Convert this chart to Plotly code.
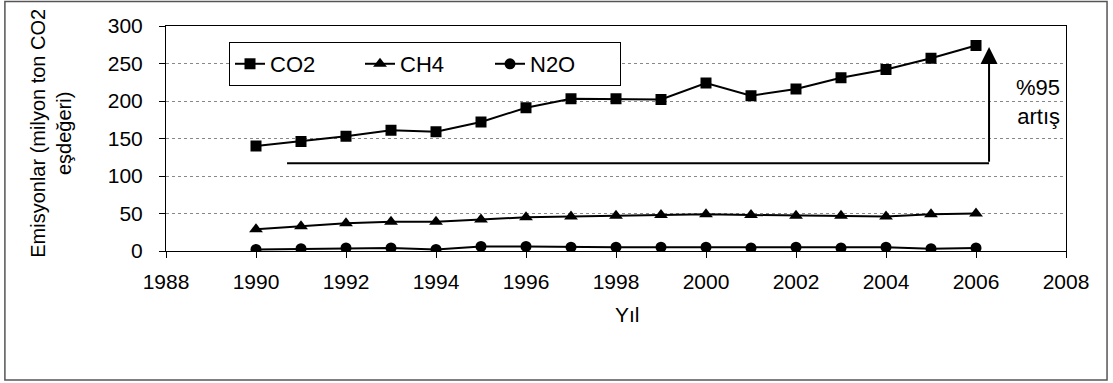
import plotly.graph_objects as go

years = list(range(1990, 2007))
co2 = [140, 146, 153, 161, 159, 172, 191, 203, 203, 202, 224, 207, 216, 231, 242, 257, 274]
ch4 = [29, 33, 37, 39, 39, 42, 45, 46, 47, 48, 49, 48, 47, 47, 46, 49, 50]
n2o = [2, 3, 4, 4, 2, 6, 6, 5, 5, 5, 5, 4, 5, 4, 5, 3, 4]
x_ticks = list(range(1988, 2010, 2))
y_ticks = list(range(0, 301, 50))

# arrow annotation ("%95 artış")
arrow_x0, arrow_x1 = 1990.69, 2006.29
arrow_ybase, arrow_ytop = 117, 272
note_x, note_y = 2007.9, 199

FONT = "Arial"

fig = go.Figure()
fig.add_trace(go.Scatter(x=years, y=co2, name="CO2", mode="lines+markers",
                         line=dict(color="black", width=2),
                         marker=dict(symbol="square", size=11, color="black")))
fig.add_trace(go.Scatter(x=years, y=ch4, name="CH4", mode="lines+markers",
                         line=dict(color="black", width=2),
                         marker=dict(symbol="triangle-up", size=12, color="black")))
fig.add_trace(go.Scatter(x=years, y=n2o, name="N2O", mode="lines+markers",
                         line=dict(color="black", width=2),
                         marker=dict(symbol="circle", size=11, color="black")))

fig.add_shape(type="line", xref="x", yref="y", x0=arrow_x0, x1=arrow_x1,
              y0=arrow_ybase, y1=arrow_ybase, line=dict(color="black", width=2))
fig.add_annotation(x=arrow_x1, y=arrow_ytop, ax=arrow_x1, ay=arrow_ybase,
                   xref="x", yref="y", axref="x", ayref="y", text="",
                   showarrow=True, arrowhead=2, arrowsize=1.7, arrowwidth=2,
                   arrowcolor="black")
fig.add_annotation(x=note_x, y=note_y, xref="x", yref="y", text="%95<br>artış",
                   showarrow=False, xanchor="right", align="right",
                   font=dict(size=22, color="black", family=FONT))

fig.add_shape(type="rect", xref="paper", yref="paper",
              x0=-0.179, x1=1.0456, y0=-0.573, y1=1.109,
              line=dict(color="#555", width=1.5), layer="below")

fig.add_annotation(x=-0.157, y=0.524, xref="paper", yref="paper",
                   text="Emisyonlar (milyon ton CO2<br>eşdeğeri)", textangle=-90,
                   showarrow=False, font=dict(size=20, color="black", family=FONT))
fig.add_annotation(x=0.513, y=-0.342, xref="paper", yref="paper", text="Yıl",
                   showarrow=False, font=dict(size=21, color="black", family=FONT))

fig.update_layout(
    width=1113, height=383,
    margin=dict(l=166, r=47, t=26, b=132),
    paper_bgcolor="white", plot_bgcolor="white",
    font=dict(family=FONT, size=21, color="black"),
    showlegend=True,
    legend=dict(orientation="h", x=0.07, y=0.929, xanchor="left", yanchor="top",
                bordercolor="black", borderwidth=1, bgcolor="white",
                font=dict(size=22, family=FONT),
                entrywidth=85, entrywidthmode="pixels"),
    xaxis=dict(range=[1988, 2008], tickvals=x_ticks, showgrid=False,
               tickfont=dict(size=21, family=FONT), ticklabelstandoff=6,
               showline=True, linecolor="black", linewidth=1, mirror=True,
               ticks="outside", ticklen=6, tickcolor="black", zeroline=False),
    yaxis=dict(range=[0, 300], tickvals=y_ticks, showgrid=True,
               tickfont=dict(size=21, family=FONT), ticklabelstandoff=12,
               gridcolor="#888", griddash="dot", gridwidth=1,
               showline=True, linecolor="black", linewidth=1, mirror=True,
               ticks="outside", ticklen=6, tickcolor="black", zeroline=False),
)

fig.write_html("out.html")
